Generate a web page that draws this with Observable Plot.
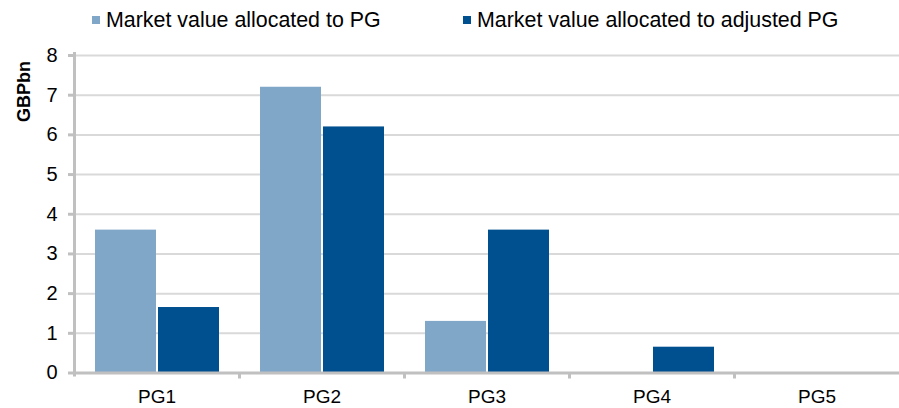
<!DOCTYPE html>
<html>
<head>
<meta charset="utf-8">
<script src="https://cdn.jsdelivr.net/npm/d3@7"></script>
<script src="https://cdn.jsdelivr.net/npm/@observablehq/plot@0.6"></script>
<style>
  body { margin: 0; background: #fff; font-family: "Liberation Sans", Arial, sans-serif; }
  #legend { position: relative; width: 899px; height: 40px; }
  .item { position: absolute; top: 8px; display: flex; align-items: center; height: 24px; font-size: 21.4px; color: #000; white-space: nowrap; }
  .swatch { width: 8px; height: 8px; margin-right: 6px; }
  #chart svg { display: block; }
</style>
</head>
<body>
<div id="legend"></div>
<div id="chart"></div>
<script>
// Market value per PG group, GBP bn
const categories = ["PG1", "PG2", "PG3", "PG4", "PG5"];
const seriesNames = ["Market value allocated to PG", "Market value allocated to adjusted PG"];
const pgValues = [3.6, 7.2, 1.3, 0, 0];
const adjustedPgValues = [1.65, 6.2, 3.6, 0.65, 0];
const yTicks = [0, 1, 2, 3, 4, 5, 6, 7, 8];
const seriesColors = ["#80a6c8", "#004f8f"];

const rows = categories.flatMap((category, i) => [
  {category, series: seriesNames[0], value: pgValues[i]},
  {category, series: seriesNames[1], value: adjustedPgValues[i]}
]);

// Legend above the chart
const legendLeft = [92, 463];
const legend = document.getElementById("legend");
seriesNames.forEach((name, i) => {
  const item = document.createElement("div");
  item.className = "item";
  item.style.left = legendLeft[i] + "px";
  const sw = document.createElement("span");
  sw.className = "swatch";
  sw.style.background = seriesColors[i];
  const label = document.createElement("span");
  label.textContent = name;
  item.append(sw, label);
  legend.append(item);
});

const W = 899, H = 368, mL = 74, mR = 0, mT = 15, mB = 35.5;
const step = (W - mL - mR) / categories.length;
const frameH = H - mT - mB;
const axisGray = "#c0c0c0";

const chart = Plot.plot({
  width: W,
  height: H,
  marginLeft: mL,
  marginRight: mR,
  marginTop: mT,
  marginBottom: mB,
  style: {fontFamily: "'Liberation Sans', Arial, sans-serif", fontSize: "19px", color: "#000", background: "#fff"},
  fx: {domain: categories, padding: 0, label: null},
  x: {domain: seriesNames, paddingInner: 0, paddingOuter: 0.29, axis: null},
  y: {domain: [0, 8], label: null},
  color: {domain: seriesNames, range: seriesColors},
  marks: [
    Plot.gridY(yTicks, {stroke: "#d9d9d9", strokeOpacity: 1, strokeWidth: 2}),
    Plot.barY(rows, {fx: "category", x: "series", y: "value", fill: "series", insetLeft: 1, insetRight: 1}),
    // category axis line
    Plot.ruleY([0], {stroke: axisGray, strokeWidth: 3}),
    // value axis line on the left edge of the first panel
    Plot.ruleX([categories[0]], {fx: (d) => d, x: null, dx: -step / 2, stroke: axisGray, strokeWidth: 3, insetTop: -3, insetBottom: -4}),
    // tick marks between categories
    Plot.ruleX(categories.slice(1), {fx: (d) => d, x: null, dx: -step / 2, stroke: axisGray, strokeWidth: 3, insetTop: frameH, insetBottom: -6}),
    Plot.axisY(yTicks, {tickSize: 6, tickPadding: 11, stroke: axisGray, strokeWidth: 3, fill: "#000", fontSize: 20, label: null}),
    Plot.axisFx({anchor: "bottom", tickSize: 0, tickPadding: 16, fontSize: 19, label: null}),
    Plot.text(["GBPbn"], {fx: () => categories[0], frameAnchor: "top-left", rotate: -90, dx: -57, dy: 36, textAnchor: "middle", fontWeight: "bold", fontSize: 18})
  ]
});
document.getElementById("chart").append(chart);
</script>
</body>
</html>
